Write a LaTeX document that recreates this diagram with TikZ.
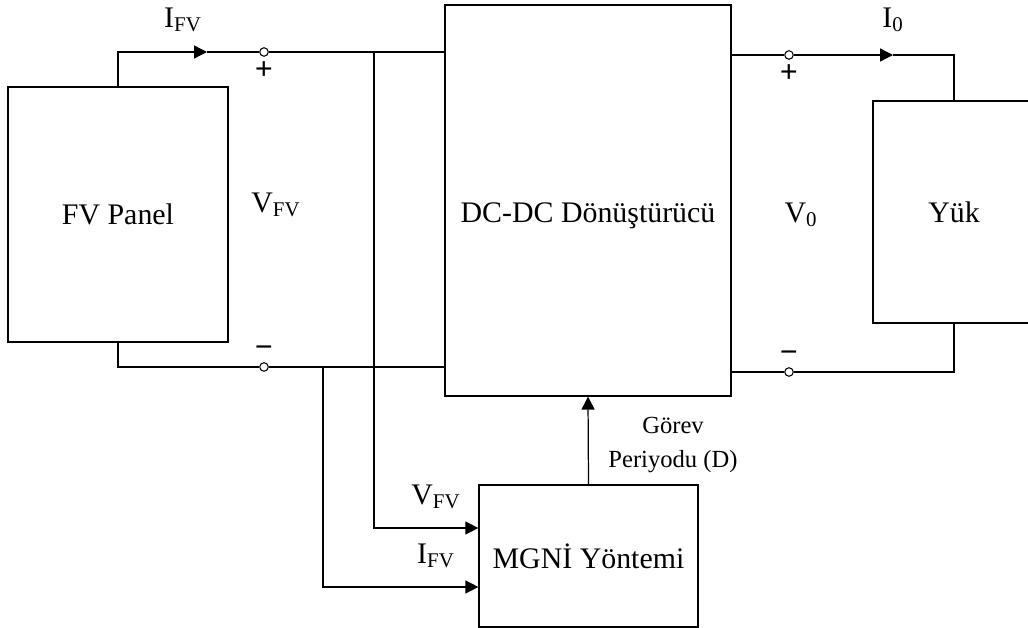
\documentclass[tikz,border=0pt]{standalone}
\usepackage{fontspec}
\setmainfont{Liberation Serif}
\usetikzlibrary{arrows.meta, positioning}

\begin{document}
\begin{tikzpicture}[x=0.02cm, y=-0.02cm, line width=0.7pt,
  box/.style={draw, inner sep=0pt, font=\fontsize{17}{20}\selectfont},
  term/.style={draw, circle, fill=white, inner sep=0pt, minimum size=1.7mm, line width=0.6pt},
  lbl/.style={font=\fontsize{17}{20}\selectfont},
  sgn/.style={font=\fontsize{18}{20}\selectfont\bfseries},
  tip/.style={-{Triangle[length=2.6mm,width=2.6mm]}},
]
\clip (0,0) rectangle (1028,628);
\node[box, minimum width=4.4cm, minimum height=5.1cm] (pv) at (118,214.5) {FV Panel};
\node[box, minimum width=5.72cm, minimum height=7.82cm, text height=29pt, text depth=4pt] (conv) at (588,200.5) {DC-DC Dönüştürücü};
\node[box, minimum width=3.24cm, minimum height=4.44cm] (load) at (954,212) {Yük};
\node[box, minimum width=4.38cm, minimum height=2.84cm] (mppt) at (588.5,556) {MGNİ Yöntemi};

\node[term] (tp) at (264,52) {};
\node[term] (tn) at (264,367) {};
\node[term] (tp2) at (789,55) {};
\node[term] (tn2) at (789,372) {};
\coordinate (iFV) at (207,52);
\coordinate (iO) at (893,55);
\coordinate (vtap) at (374,52);
\coordinate (itap) at (323,367);

\draw[tip] (pv.north) |- (iFV);
\draw (iFV) -- (tp) -- (conv.west |- tp);
\draw (pv.south) |- (tn) -- (conv.west |- tn);
\draw[tip] (vtap) |- ([yshift=0.56cm]mppt.west);
\draw[tip] (itap) |- ([yshift=-0.62cm]mppt.west);
\draw[tip] (mppt.north) -- (conv.south);
\draw (conv.east |- tp2) -- (tp2);
\draw[tip] (tp2) -- (iO);
\draw (iO) -| (load.north);
\draw (conv.east |- tn2) -- (tn2) -| (load.south);

\node[lbl] (ifvtop) at (183,20) {I\textsubscript{FV}};
\node[lbl] (vfv) at (276,205) {V\textsubscript{FV}};
\node[lbl] (vo) at (801,215) {V\textsubscript{0}};
\node[lbl] (io) at (893,20) {I\textsubscript{0}};
\node[lbl] (vfvin) at (436,497) {V\textsubscript{FV}};
\node[lbl] (ifvin) at (436,556) {I\textsubscript{FV}};
\node[font=\fontsize{14}{19}\selectfont, align=center] (duty) at (673,445) {Görev\\Periyodu (D)};
\node[sgn] at (264,71) {+};
\node[sgn] at (264,352) {−};
\node[sgn] at (789,74) {+};
\node[sgn] at (789,357) {−};
\end{tikzpicture}
\end{document}
